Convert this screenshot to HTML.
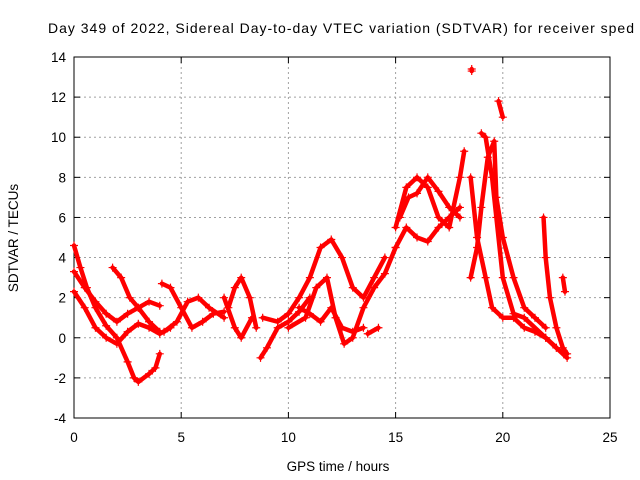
<!DOCTYPE html>
<html><head><meta charset="utf-8"><style>
body{margin:0;background:#fff}
svg{display:block;font-family:"Liberation Sans",sans-serif}
</style></head><body>
<svg id="chart" width="640" height="480">
<text x="48" y="33" font-size="14" textLength="586" lengthAdjust="spacing">Day 349 of 2022, Sidereal Day-to-day VTEC variation (SDTVAR) for receiver sped</text>
<g id="grid"></g>
<g id="axes"></g>
<g id="series"></g>
<text x="338" y="471" font-size="13.5" text-anchor="middle">GPS time / hours</text>
<text x="18" y="238" font-size="13.5" text-anchor="middle" transform="rotate(-90 18 238)">SDTVAR / TECUs</text>
</svg>
<script>
const xTicks=[0,5,10,15,20,25];
const yTicks=[-4,-2,0,2,4,6,8,10,12,14];
const trackA=[[0,4.6],[0.3,3.5],[0.6,2.5],[1,1.5],[1.5,0.6],[2,0],[2.5,-1.2],[2.8,-2],[3,-2.2],[3.5,-1.8],[3.8,-1.5],[4,-0.8]];
const trackB=[[0,3.3],[0.5,2.5],[1,1.8],[1.5,1.2],[2,0.8],[2.5,1.2],[3,1.5],[3.5,1.8],[4,1.6]];
const trackC=[[0,2.3],[0.5,1.5],[1,0.5],[1.5,0],[2,-0.3],[2.5,0.3],[3,0.7],[3.5,0.5],[4,0.2],[4.5,0.5]];
const trackD=[[1.8,3.5],[2.2,3],[2.6,2],[3,1.5],[3.5,0.8],[4,0.3]];
const trackE=[[4.1,2.7],[4.5,2.5],[5,1.5],[5.5,0.5],[6,0.8],[6.5,1.2],[7,1.3]];
const trackF=[[4.2,0.3],[4.8,0.8],[5.3,1.8],[5.8,2],[6.3,1.5],[7,1]];
const trackG=[[7.2,1.5],[7.5,2.5],[7.8,3],[8.2,2],[8.5,0.5]];
const trackH=[[7,2],[7.5,0.5],[7.8,0],[8.3,1]];
const trackI=[[8.7,-1],[9,-0.5],[9.5,0.5],[10,0.8],[10.5,1.3],[11,2]];
const trackJ=[[8.8,1],[9.5,0.8],[10,1.2],[10.5,2],[11,3],[11.5,4.5],[12,4.9],[12.5,4],[13,2.5],[13.5,2],[14,3],[14.5,4]];
const trackK=[[10,0.5],[10.8,1],[11.3,2.5],[11.8,3],[12.2,1],[12.6,-0.3],[13,0],[13.5,1.5],[14,2.5],[14.5,3.2],[15,4.5]];
const trackL=[[10.5,1.5],[11,1.2],[11.5,0.8],[12,1.5],[12.5,0.5],[13,0.3],[13.5,0.5]];
const trackM=[[15,5.5],[15.5,7.5],[16,8],[16.5,7.5],[17,6],[17.5,5.5],[18,8],[18.2,9.3]];
const trackN=[[15,4.5],[15.5,5.5],[16,5],[16.5,4.8],[17,5.5],[17.5,6],[18,6.5]];
const trackO=[[15.2,6],[15.6,7],[16,7.2],[16.5,8],[17,7.3],[17.5,6.5],[18,6]];
const trackP=[[18.5,8],[18.8,5],[19.2,3],[19.5,1.5],[20,1],[20.5,1],[21,0.5],[21.5,0.3],[22,0],[22.5,-0.5],[23,-1]];
const trackQ=[[18.5,3],[18.8,4.5],[19,6.5],[19.3,9],[19.6,9.8],[19.7,7],[20,5],[20.5,3],[21,1.5],[21.5,1],[22,0.5]];
const trackR=[[19,10.2],[19.2,10],[19.5,8],[19.7,6],[20,3],[20.5,1.2],[21,1],[22,0],[22.5,-0.5]];
const trackS=[[19.8,11.8],[20,11]];
const trackT=[[21.9,6],[22,4],[22.2,2],[22.5,0.5],[22.8,-0.5],[23,-0.8]];
const trackU=[[22.8,3],[22.9,2.3]];
const trackV=[[13.7,0.2],[14.2,0.5]];
const trackW=[[18.55,13.4],[18.55,13.3]];
const tracks=[trackA,trackB,trackC,trackD,trackE,trackF,trackG,trackH,trackI,trackJ,trackK,trackL,trackM,trackN,trackO,trackP,trackQ,trackR,trackS,trackT,trackU,trackV,trackW];

const NS="http://www.w3.org/2000/svg";
const L=74,R=610,T=57,B=418;
const xS=v=>L+(v-0)/25*(R-L);
const yS=v=>B-(v+4)/18*(B-T);
function mk(tag,attrs,parent){const e=document.createElementNS(NS,tag);for(const k in attrs)e.setAttribute(k,attrs[k]);parent.appendChild(e);return e;}
const grid=document.getElementById('grid'),axes=document.getElementById('axes'),ser=document.getElementById('series');
xTicks.forEach(t=>{
  const x=xS(t);
  if(t>0&&t<25){const g=mk('line',{x1:x,x2:x,y1:T,y2:B,stroke:'#a0a0a0','stroke-dasharray':'2,3','stroke-width':1},grid);
  
  }
  const tx=mk('text',{x:x,y:B+24,'font-size':13.5,'text-anchor':'middle'},axes);
  tx.textContent=t;
  
  
  mk('line',{x1:x,x2:x,y1:B,y2:B-6,stroke:'#000'},axes);
  mk('line',{x1:x,x2:x,y1:T,y2:T+6,stroke:'#000'},axes);
});
yTicks.forEach(t=>{
  const y=yS(t);
  if(t>-4&&t<14){const g=mk('line',{x1:L,x2:R,y1:y,y2:y,stroke:'#a0a0a0','stroke-dasharray':'2,3','stroke-width':1},grid);
  
  }
  const tx=mk('text',{x:L-8,y:y+5,'font-size':13.5,'text-anchor':'end'},axes);
  tx.textContent=t;
  
  
  mk('line',{x1:L,x2:L+6,y1:y,y2:y,stroke:'#000'},axes);
  mk('line',{x1:R,x2:R-6,y1:y,y2:y,stroke:'#000'},axes);
});
const frame=mk('rect',{x:L,y:T,width:R-L,height:B-T,fill:'none',stroke:'#000'},axes);


tracks.forEach(tr=>{
  const pts=tr.map(p=>xS(p[0])+','+yS(p[1])).join(' ');
  const pl=mk('polyline',{points:pts,fill:'none',stroke:'#f00','stroke-width':4.5,'stroke-linejoin':'round','stroke-linecap':'round'},ser);
  
  
  tr.forEach(p=>{
    const x=xS(p[0]),y=yS(p[1]);
    const m=mk('path',{d:`M${x-4},${y}H${x+4}M${x},${y-4}V${y+4}`,stroke:'#f00','stroke-width':1.2},ser);
    
    
  });
});
</script>
</body></html>
